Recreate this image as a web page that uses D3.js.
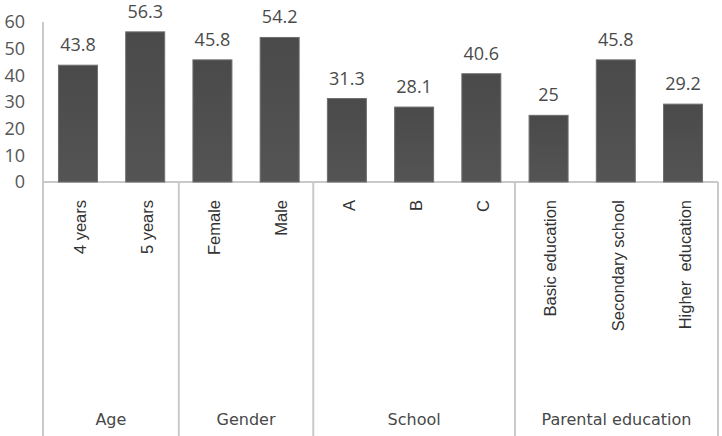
<!DOCTYPE html>
<html>
<head>
<meta charset="utf-8">
<script src="https://cdn.jsdelivr.net/npm/d3@7"></script>
<style>
html,body{margin:0;padding:0;background:#fff;}
svg{display:block;}
</style>
</head>
<body>
<svg id="chart" width="722" height="436"></svg>
<script>
const categories = ["4 years","5 years","Female","Male","A","B","C","Basic education","Secondary school","Higher  education"];
const categoryGroup = ["Age","Age","Gender","Gender","School","School","School","Parental education","Parental education","Parental education"];
const groups = ["Age","Gender","School","Parental education"];
const values = [43.8,56.3,45.8,54.2,31.3,28.1,40.6,25,45.8,29.2];
const valueLabels = ["43.8","56.3","45.8","54.2","31.3","28.1","40.6","25","45.8","29.2"];
const yTicks = [0,10,20,30,40,50,60];

(function(){
const plotLeft = 43, plotRight = 718, plotTop = 22, zeroY = 182, plotBottom = 436;
const svg = d3.select("#chart");

const defs = svg.append("defs");
const grad = defs.append("linearGradient").attr("id","barGrad").attr("x1","0").attr("y1","0").attr("x2","0").attr("y2","1");
grad.append("stop").attr("offset","0%").attr("stop-color","#4a4a4a");
grad.append("stop").attr("offset","100%").attr("stop-color","#545454");

const x = d3.scaleBand().domain(categories).range([plotLeft,plotRight]).paddingInner(0.42).paddingOuter(0.23);
const y = d3.scaleLinear().domain([0,60]).range([zeroY, plotTop]);

const lineColor = "#c9c9c9";

const yAxis = svg.append("g").attr("transform",`translate(${plotLeft},0)`)
  .call(d3.axisLeft(y).tickValues(yTicks).tickSize(0).tickPadding(18).tickFormat(d3.format("d")));
yAxis.select(".domain").remove();
yAxis.selectAll("text").attr("font-family","'Open Sans', sans-serif").attr("font-size","18px").attr("fill","#555");

svg.append("line").attr("x1",plotLeft).attr("x2",plotLeft).attr("y1",y(60)).attr("y2",plotBottom)
  .attr("stroke",lineColor).attr("stroke-width",2);
svg.append("line").attr("x1",plotLeft).attr("x2",plotRight).attr("y1",y(0)).attr("y2",y(0))
  .attr("stroke",lineColor).attr("stroke-width",2);

const groupBounds = groups.map(g => {
  const cats = categories.filter((c,i)=>categoryGroup[i]===g);
  const first = cats[0], last = cats[cats.length-1];
  const s = x.step()*x.paddingInner()/2;
  return {g, x0: x(first)-s, x1: x(last)+x.bandwidth()+s};
});
groupBounds.forEach((b,i)=>{
  const xe = i===groupBounds.length-1 ? plotRight : b.x1;
  svg.append("line").attr("x1",xe).attr("x2",xe).attr("y1",y(0)).attr("y2",plotBottom)
    .attr("stroke",lineColor).attr("stroke-width",2);
  const x0 = i===0 ? plotLeft : b.x0;
  svg.append("text").attr("x",(x0+xe)/2).attr("y",425)
    .attr("text-anchor","middle").attr("font-family","'DejaVu Sans', sans-serif")
    .attr("font-size","16px").attr("fill","#484848").text(b.g);
});

svg.selectAll("rect.bar").data(values).enter().append("rect").attr("class","bar")
  .attr("x",(d,i)=>x(categories[i])).attr("width",x.bandwidth())
  .attr("y",d=>y(d)).attr("height",d=>y(0)-y(d))
  .attr("fill","url(#barGrad)").attr("stroke","#6e6e6e").attr("stroke-width",1);

svg.selectAll("text.val").data(values).enter().append("text").attr("class","val")
  .attr("x",(d,i)=>x(categories[i])+x.bandwidth()/2).attr("y",d=>y(d)-14)
  .attr("text-anchor","middle").attr("font-family","'Open Sans', sans-serif")
  .attr("font-size","18px").attr("fill","#4a4a4a").text((d,i)=>valueLabels[i]);

svg.selectAll("text.cat").data(categories).enter().append("text").attr("class","cat")
  .attr("transform",d=>`translate(${x(d)+x.bandwidth()/2+2},200) rotate(-90)`)
  .attr("text-anchor","end").attr("dy","0.35em")
  .style("white-space","pre")
  .attr("font-family","'Liberation Sans', Arial, sans-serif").attr("font-size","16.5px").attr("fill","#333")
  .text(d=>d);
})();
</script>
</body>
</html>
